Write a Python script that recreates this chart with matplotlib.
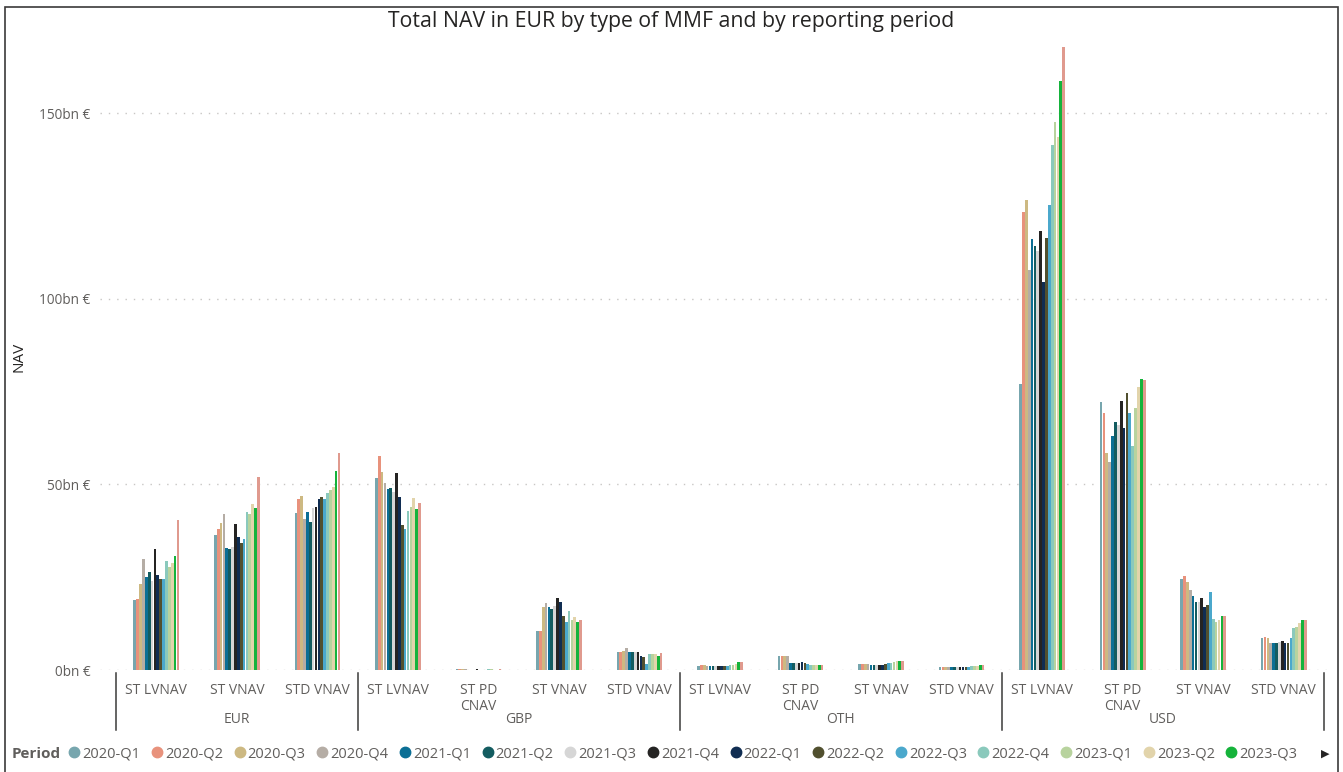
import matplotlib
matplotlib.use("Agg")
import matplotlib.pyplot as plt
import matplotlib.transforms as mtransforms
import numpy as np
from matplotlib.lines import Line2D
from matplotlib.patches import Rectangle

plt.rcParams["font.family"] = ["Open Sans", "DejaVu Sans"]

TXT = "#605E5C"
DARK = "#252423"
GRID = "#C8C6C4"

periods = ["2020-Q1", "2020-Q2", "2020-Q3", "2020-Q4",
           "2021-Q1", "2021-Q2", "2021-Q3", "2021-Q4",
           "2022-Q1", "2022-Q2", "2022-Q3", "2022-Q4",
           "2023-Q1", "2023-Q2", "2023-Q3", "2023-Q4"]
period_colors = ["#77A6AE", "#E8927C", "#CDB982", "#B5ADA5",
                 "#0B6F95", "#135C60", "#D6D6D6", "#252423",
                 "#102D52", "#51502F", "#4BA8CC", "#8AC9BC",
                 "#B8D39E", "#E2D4AB", "#15B33B", "#E09A8E"]

currencies = ["EUR", "GBP", "OTH", "USD"]
eur_types = ["ST LVNAV", "ST VNAV", "STD VNAV"]
other_types = ["ST LVNAV", "ST PD\nCNAV", "ST VNAV", "STD VNAV"]

# NAV in bn EUR, one value per reporting period
eur_st_lvnav = [18.9, 19.1, 23.3, 29.8, 25.1, 26.5, 24.0, 32.7, 25.6, 24.5, 24.4, 29.4, 27.8, 28.9, 30.8, 40.4]
eur_st_vnav = [36.5, 37.9, 39.5, 41.9, 32.9, 32.6, 33.2, 39.2, 35.9, 34.1, 35.4, 42.6, 42.0, 44.6, 43.7, 52.1]
eur_std_vnav = [42.2, 46.0, 46.9, 40.7, 42.6, 39.8, 43.7, 44.0, 46.1, 46.5, 46.1, 47.8, 48.5, 49.2, 53.6, 58.5]

gbp_st_lvnav = [51.6, 57.6, 53.4, 50.5, 48.7, 48.9, 48.0, 53.1, 46.5, 39.1, 37.9, 42.8, 44.0, 46.2, 43.3, 45.1]
gbp_st_pd_cnav = [0.4, 0.4, 0.4, 0.3, 0.1, 0.1, 0.1, 0.4, 0.1, 0.1, 0.1, 0.3, 0.3, 0.1, 0.1, 0.4]
gbp_st_vnav = [10.6, 10.5, 16.9, 18.0, 17.1, 16.3, 17.2, 19.5, 18.2, 14.6, 13.0, 16.0, 13.5, 14.2, 13.0, 13.5]
gbp_std_vnav = [4.9, 4.9, 5.1, 5.8, 4.9, 4.9, 4.9, 4.9, 3.9, 3.6, 1.6, 4.3, 4.3, 4.2, 3.9, 4.6]

oth_st_lvnav = [1.1, 1.3, 1.3, 1.2, 1.1, 1.1, 1.0, 1.0, 1.0, 1.1, 1.2, 1.3, 1.4, 1.5, 2.1, 2.1]
oth_st_pd_cnav = [3.7, 3.9, 3.9, 3.8, 2.0, 1.8, 1.8, 2.0, 2.1, 1.8, 1.5, 1.4, 1.4, 1.4, 1.3, 1.4]
oth_st_vnav = [1.6, 1.6, 1.6, 1.5, 1.3, 1.3, 1.4, 1.4, 1.4, 1.5, 1.8, 2.0, 2.2, 2.3, 2.5, 2.5]
oth_std_vnav = [0.9, 0.9, 0.9, 0.9, 0.8, 0.8, 0.8, 0.9, 0.8, 0.8, 0.9, 1.0, 1.1, 1.2, 1.3, 1.3]

usd_st_lvnav = [77.0, 123.5, 126.5, 107.8, 116.1, 114.2, 113.0, 118.2, 104.5, 116.5, 125.2, 141.3, 147.5, 143.5, 158.6, 167.7]
usd_st_pd_cnav = [72.1, 69.1, 58.5, 56.1, 63.0, 66.9, 66.0, 72.5, 65.1, 74.5, 69.1, 60.3, 70.6, 76.3, 78.5, 78.1]
usd_st_vnav = [24.4, 25.4, 23.6, 21.5, 20.0, 18.2, 18.4, 19.3, 17.1, 17.5, 20.9, 13.7, 12.8, 13.6, 14.5, 14.5]
usd_std_vnav = [8.5, 9.0, 8.5, 7.4, 7.3, 7.3, 7.5, 7.7, 7.2, 7.2, 8.5, 11.2, 11.7, 12.6, 13.6, 13.5]

groups = [
    ("EUR", eur_types, [eur_st_lvnav, eur_st_vnav, eur_std_vnav]),
    ("GBP", other_types, [gbp_st_lvnav, gbp_st_pd_cnav, gbp_st_vnav, gbp_std_vnav]),
    ("OTH", other_types, [oth_st_lvnav, oth_st_pd_cnav, oth_st_vnav, oth_std_vnav]),
    ("USD", other_types, [usd_st_lvnav, usd_st_pd_cnav, usd_st_vnav, usd_std_vnav]),
]

labels, rows, bounds = [], [], []
for cur, types, series in groups:
    start = len(labels)
    labels += types
    rows += series
    bounds.append((cur, start, len(labels) - 1))
values = np.array(rows)  # categories x periods

W, H = 1343, 772
fig = plt.figure(figsize=(W / 100, H / 100), dpi=100, facecolor="white")
ax = fig.add_axes([100 / W, 1 - 670 / H, 1232 / W, 640 / H])

x = np.arange(len(labels))
step = 0.0357
n = len(periods)
for j, (p, c) in enumerate(zip(periods, period_colors)):
    ax.bar(x + (j - (n - 1) / 2) * step, values[:, j], width=step * 0.93,
           color=c, linewidth=0, label=p)

ax.set_xlim(-0.7, 14.6)
ax.set_ylim(0, 172.4)
ax.set_yticks([0, 50, 100, 150])
ax.set_yticklabels([f"{v}bn €" for v in [0, 50, 100, 150]], fontsize=9.8, color=TXT)
ax.set_xticks(x)
ax.set_xticklabels(labels, fontsize=10, color=TXT, linespacing=1.1)
ax.tick_params(axis="both", length=0)
ax.tick_params(axis="x", pad=9)
ax.tick_params(axis="y", pad=7)
for s in ax.spines.values():
    s.set_visible(False)
ax.grid(axis="y", color=GRID, linestyle=(0, (1, 5)), linewidth=1)
ax.set_axisbelow(True)
ax.set_ylabel("NAV", fontsize=11, color=DARK)
ax.yaxis.set_label_coords(-74 / 1232, 0.49)

# currency group labels and separators under the category labels
trans = mtransforms.blended_transform_factory(ax.transData, ax.transAxes)
for cur, a, b in bounds:
    ax.text((a + b) / 2, -0.078, cur, transform=trans, ha="center", va="center",
            fontsize=10, color=TXT)
for pos in [-0.5, 2.5, 6.5, 10.5, 14.5]:
    ax.plot([pos, pos], [-0.004, -0.094], transform=trans, color="#3B3A39",
            lw=1.1, clip_on=False)

fig.text(0.5, 1 - 21 / H, "Total NAV in EUR by type of MMF and by reporting period",
         ha="center", va="center", fontsize=15.3, color=DARK)

# legend row
fig.text(12 / W, 1 - 754 / H, "Period", ha="left", va="center", fontsize=11,
         fontweight="bold", color=TXT)
handles = [Line2D([], [], marker="o", linestyle="", markersize=7.5,
                  markerfacecolor=c, markeredgecolor=c) for c in period_colors[:15]]
fig.legend(handles, periods[:15], loc="center left", bbox_to_anchor=(70 / W, 1 - 754 / H),
           ncol=15, frameon=False, fontsize=10.5, handlelength=0.6, handletextpad=0.25,
           columnspacing=0.84, borderpad=0, borderaxespad=0, labelcolor=TXT)
fig.text(1325 / W, 1 - 754 / H, "▶", ha="center", va="center", fontsize=8,
         color=DARK, family="DejaVu Sans")

fig.add_artist(Rectangle((5 / W, -0.01), (W - 10) / W, 1 - 7 / H + 0.01,
                         transform=fig.transFigure, fill=False, edgecolor="#3B3A39", lw=1.2))

fig.savefig("out.png", dpi=100, facecolor="white")
